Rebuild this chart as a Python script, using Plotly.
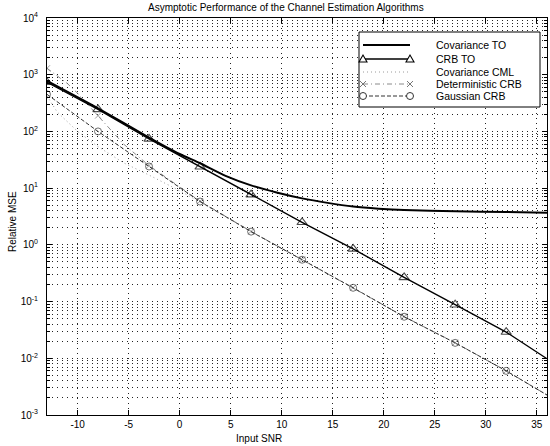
import plotly.graph_objects as go

# ---------------- data ----------------
snr = [-13, -8, -3, 2, 7, 12, 17, 22, 27, 32, 36]
crb_to = [735, 245, 74, 23.8, 7.7, 2.5, 0.85, 0.267, 0.088, 0.029, 0.0098]
gauss_crb = [451, 100, 24.1, 5.8, 1.71, 0.547, 0.175, 0.054, 0.0187, 0.006, 0.00225]

cov_to_snr = [-13, -8, -3, 0, 2, 4.5, 7, 9.5, 12, 14.5, 17, 19.5, 22, 27, 32, 36]
cov_to = [775, 255, 78, 40, 27.5, 16.5, 11.2, 8.4, 6.6, 5.5, 4.75, 4.35, 4.1, 3.9, 3.8, 3.7]

det_snr = [-13, -12, -11, -10, -8, -5.5, -3, 2, 7, 12, 17, 22, 27, 32, 36]
det_crb = [1300, 950, 700, 470, 190, 60, 25, 5.9, 1.73, 0.55, 0.176, 0.0545, 0.0188, 0.006, 0.00226]

cml_snr = [-13, -12, -10, -8, -5.5, -3, 0, 2, 7, 12, 17, 22, 27, 32, 36]
cov_cml = [420, 220, 100, 54, 28, 17, 9, 5.7, 1.71, 0.547, 0.175, 0.054, 0.0187, 0.006, 0.00225]

x_ticks = [-10, -5, 0, 5, 10, 15, 20, 25, 30, 35]
y_exponents = [-3, -2, -1, 0, 1, 2, 3, 4]
names = ["Covariance TO", "CRB TO", "Covariance CML", "Deterministic CRB", "Gaussian CRB"]
title_text = "Asymptotic Performance of the Channel Estimation Algorithms"
x_title = "Input SNR"
y_title = "Relative MSE"

# ---------------- styling / layout ----------------
W, H = 550, 446
PL, PR, PT, PB = 47, 547, 18, 415
FONT = "Liberation Sans, Arial, Helvetica, sans-serif"


def fx(px):
    return (px - PL) / (PR - PL)


def fy(py):
    return (PB - py) / (PB - PT)


def marker_sizes(xs, size):
    return [size if (x + 13) % 5 == 0 and x <= 32 else 0 for x in xs]


styles = {
    "Covariance TO": dict(color="black", width=2.0, dash="solid"),
    "CRB TO": dict(color="black", width=1.4, dash="solid"),
    "Covariance CML": dict(color="#9a9a9a", width=1.0, dash="1px,3px"),
    "Deterministic CRB": dict(color="#8a8a8a", width=1.0, dash="5px,3px,1px,3px"),
    "Gaussian CRB": dict(color="#333333", width=1.0, dash="4px,2px"),
}

fig = go.Figure()

fig.add_trace(go.Scatter(x=cml_snr, y=cov_cml, mode="lines", name=names[2],
                         line=styles[names[2]], showlegend=False))
fig.add_trace(go.Scatter(x=det_snr, y=det_crb, mode="lines+markers", name=names[3],
                         line=styles[names[3]], showlegend=False,
                         marker=dict(symbol="x-thin-open", size=marker_sizes(det_snr, 6),
                                     color="#777777", line=dict(width=1, color="#777777"))))
fig.add_trace(go.Scatter(x=snr, y=gauss_crb, mode="lines+markers", name=names[4],
                         line=styles[names[4]], showlegend=False,
                         marker=dict(symbol="circle-open", size=marker_sizes(snr, 7),
                                     color="#333333", line=dict(width=1, color="#333333"))))
fig.add_trace(go.Scatter(x=snr, y=crb_to, mode="lines+markers", name=names[1],
                         line=styles[names[1]], showlegend=False,
                         marker=dict(symbol="triangle-up-open", size=marker_sizes(snr, 9),
                                     color="black", line=dict(width=1.1, color="black"))))
fig.add_trace(go.Scatter(x=cov_to_snr, y=cov_to, mode="lines", name=names[0],
                         line=dict(styles[names[0]], shape="spline", smoothing=0.6),
                         showlegend=False))

grid_common = dict(showgrid=True, gridcolor="#222222", gridwidth=1, griddash="1px,4px")

fig.update_xaxes(range=[-13, 36], tickvals=x_ticks, ticktext=[str(v) for v in x_ticks],
                 ticks="inside", ticklen=5,
                 tickcolor="black", showline=True, linecolor="black", linewidth=1,
                 mirror="ticks", zeroline=False,
                 tickfont=dict(family=FONT, size=10, color="black"), **grid_common)
fig.update_yaxes(type="log", range=[-3, 4],
                 tickvals=[10.0 ** e for e in y_exponents],
                 ticktext=["10<sup>%d</sup>" % e for e in y_exponents],
                 ticks="inside", ticklen=5, tickcolor="black",
                 showline=True, linecolor="black", linewidth=1, mirror="ticks",
                 zeroline=False, ticklabelstandoff=6,
                 tickfont=dict(family=FONT, size=10, color="black"),
                 minor=dict(dtick="D1", ticks="inside", ticklen=3, tickcolor="black",
                            showgrid=True, gridcolor="#222222", gridwidth=1,
                            griddash="1px,4px"),
                 **grid_common)

# ---------------- legend (drawn as a box with samples) ----------------
shapes = []
annotations = []
lx0, lx1, ly0, ly1 = 359, 540, 32, 107
shapes.append(dict(type="rect", xref="paper", yref="paper", x0=fx(lx0), x1=fx(lx1),
                   y0=fy(ly1), y1=fy(ly0), line=dict(color="black", width=1),
                   fillcolor="white", layer="above"))
rows = [45, 59, 72, 84, 96]
sx0, sx1, tx = 363, 410, 434
for name, py in zip(names, rows):
    st = styles[name]
    shapes.append(dict(type="line", xref="paper", yref="paper", x0=fx(sx0), x1=fx(sx1),
                       y0=fy(py), y1=fy(py), layer="above",
                       line=dict(color=st["color"], width=st["width"], dash=st["dash"])))
    for ex in (sx0, sx1):
        base = dict(xref="paper", yref="paper", xsizemode="pixel", ysizemode="pixel",
                    xanchor=fx(ex), yanchor=fy(py), layer="above")
        if name == "CRB TO":
            shapes.append(dict(base, type="path", path="M-4,-3L4,-3L0,4Z",
                               line=dict(color="black", width=1.1), fillcolor="white"))
        elif name == "Gaussian CRB":
            shapes.append(dict(base, type="circle", x0=-3.5, x1=3.5, y0=-3.5, y1=3.5,
                               line=dict(color="#333333", width=1), fillcolor="white"))
        elif name == "Deterministic CRB":
            shapes.append(dict(base, type="path", path="M-3,-3L3,3M-3,3L3,-3",
                               line=dict(color="#777777", width=1)))
    annotations.append(dict(text=name, xref="paper", yref="paper", x=fx(tx), y=fy(py),
                            xanchor="left", yanchor="middle", showarrow=False,
                            font=dict(family=FONT, size=10.5, color="black")))

# titles
annotations.append(dict(text=title_text, xref="paper", yref="paper", x=fx(286), y=fy(7),
                        xanchor="center", yanchor="middle", showarrow=False,
                        font=dict(family=FONT, size=10, color="black")))
annotations.append(dict(text=x_title, xref="paper", yref="paper", x=fx(259), y=fy(439),
                        xanchor="center", yanchor="middle", showarrow=False,
                        font=dict(family=FONT, size=10, color="black")))
annotations.append(dict(text=y_title, xref="paper", yref="paper", x=fx(12), y=fy(222),
                        xanchor="center", yanchor="middle", showarrow=False, textangle=-90,
                        font=dict(family=FONT, size=10, color="black")))

fig.update_layout(width=W, height=H, margin=dict(l=PL, r=W - PR, t=PT, b=H - PB),
                  paper_bgcolor="white", plot_bgcolor="white", showlegend=False,
                  shapes=shapes, annotations=annotations, hovermode=False,
                  font=dict(family=FONT, size=10, color="black"))

fig.write_html("out.html", config={"displayModeBar": False, "staticPlot": False})

# remove the default page margin so the figure sits at the window's top-left corner
with open("out.html", "r", encoding="utf-8") as f:
    page = f.read()
page = page.replace("<body>", '<body style="margin:0;padding:0;overflow:hidden">', 1)
with open("out.html", "w", encoding="utf-8") as f:
    f.write(page)
